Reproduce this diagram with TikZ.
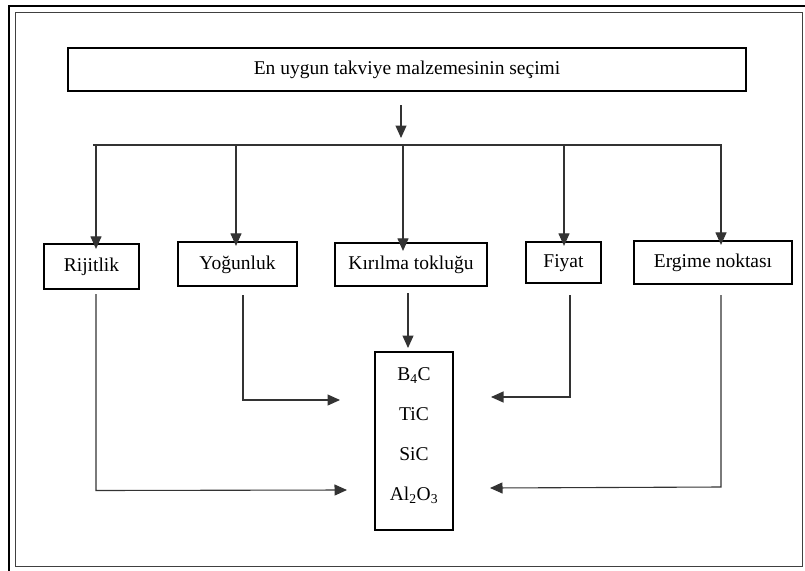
\documentclass[tikz,border=0pt]{standalone}
\usepackage{fontspec}
\setmainfont{Liberation Serif}
\usetikzlibrary{arrows.meta}
\begin{document}
\begin{tikzpicture}[x=1pt,y=-1pt,
  box/.style={draw=black,line width=2.2pt,inner sep=0pt,anchor=center,
    text height=13.5pt,text depth=3pt,
    font=\fontsize{19.5}{22}\selectfont},
  conn/.style={line width=1.1pt,draw=black!80},
  arr/.style={conn,-{Triangle[length=12.5pt,width=11pt]}},
]
\useasboundingbox (0,0) rectangle (805,570);
% frame
\draw[line width=2pt] (9,6) rectangle (820,590);
\draw[line width=1pt,draw=black!75] (15,12) rectangle (802,566.5);
% nodes
\node[box,minimum width=678pt,minimum height=43pt] (top) at (407,69.5) {En uygun takviye malzemesinin seçimi};
\node[box,minimum width=95pt,minimum height=45pt] (rij) at (91.5,266.5) {Rijitlik};
\node[box,minimum width=119pt,minimum height=44pt] (yog) at (237.5,264) {Yoğunluk};
\node[box,minimum width=152pt,minimum height=43pt] (kir) at (411,264.5) {Kırılma tokluğu};
\node[box,minimum width=75pt,minimum height=41pt] (fiy) at (563.5,262.5) {Fiyat};
\node[box,minimum width=158pt,minimum height=43pt] (erg) at (713,262.5) {Ergime noktası};
\node[box,minimum width=78pt,minimum height=178pt,text height=,text depth=] (mat) at (414,441) {};
\node[inner sep=0pt,align=center,font=\fontsize{19.5}{40}\selectfont] (mtxt) at (414,436)
  {B\textsubscript{4}C\\TiC\\SiC\\Al\textsubscript{2}O\textsubscript{3}};
% coordinates
\coordinate (t1) at (401,105);
\coordinate (t2) at (401,138);
\coordinate (hl) at (93,145);
\coordinate (hr) at (722,145);
\coordinate (b1) at (96,145);
\coordinate (b2) at (236,145);
\coordinate (b3) at (403,145);
\coordinate (b4) at (564,145);
\coordinate (b5) at (721,145);
\coordinate (r1) at (96,294);
\coordinate (r2) at (96,490.5);
\coordinate (r3) at (347,490);
\coordinate (y1) at (243,295);
\coordinate (y2) at (243,400);
\coordinate (y3) at (340,400);
\coordinate (k1) at (408,293);
\coordinate (k2) at (408,348);
\coordinate (f1) at (570,295);
\coordinate (f2) at (570,397);
\coordinate (f3) at (491,397);
\coordinate (e1) at (721,295);
\coordinate (e2) at (721,487);
\coordinate (e3) at (490,488);
% connectors
\draw[arr] (t1) -- (t2);
\draw[conn] (hl) -- (hr);
\draw[arr] (b1) -- ([yshift=-6pt]b1 |- rij.north);
\draw[arr] (b2) -- ([yshift=-5pt]b2 |- yog.north);
\draw[arr] (b3) -- ([yshift=-9pt]b3 |- kir.north);
\draw[arr] (b4) -- ([yshift=-5pt]b4 |- fiy.north);
\draw[arr] (b5) -- ([yshift=-5pt]b5 |- erg.north);
\draw[arr] (r1) -- (r2) -- (r3);
\draw[arr] (y1) -- (y2) -- (y3);
\draw[arr] (k1) -- (k2);
\draw[arr] (f1) -- (f2) -- (f3);
\draw[arr] (e1) -- (e2) -- (e3);
\end{tikzpicture}
\end{document}
